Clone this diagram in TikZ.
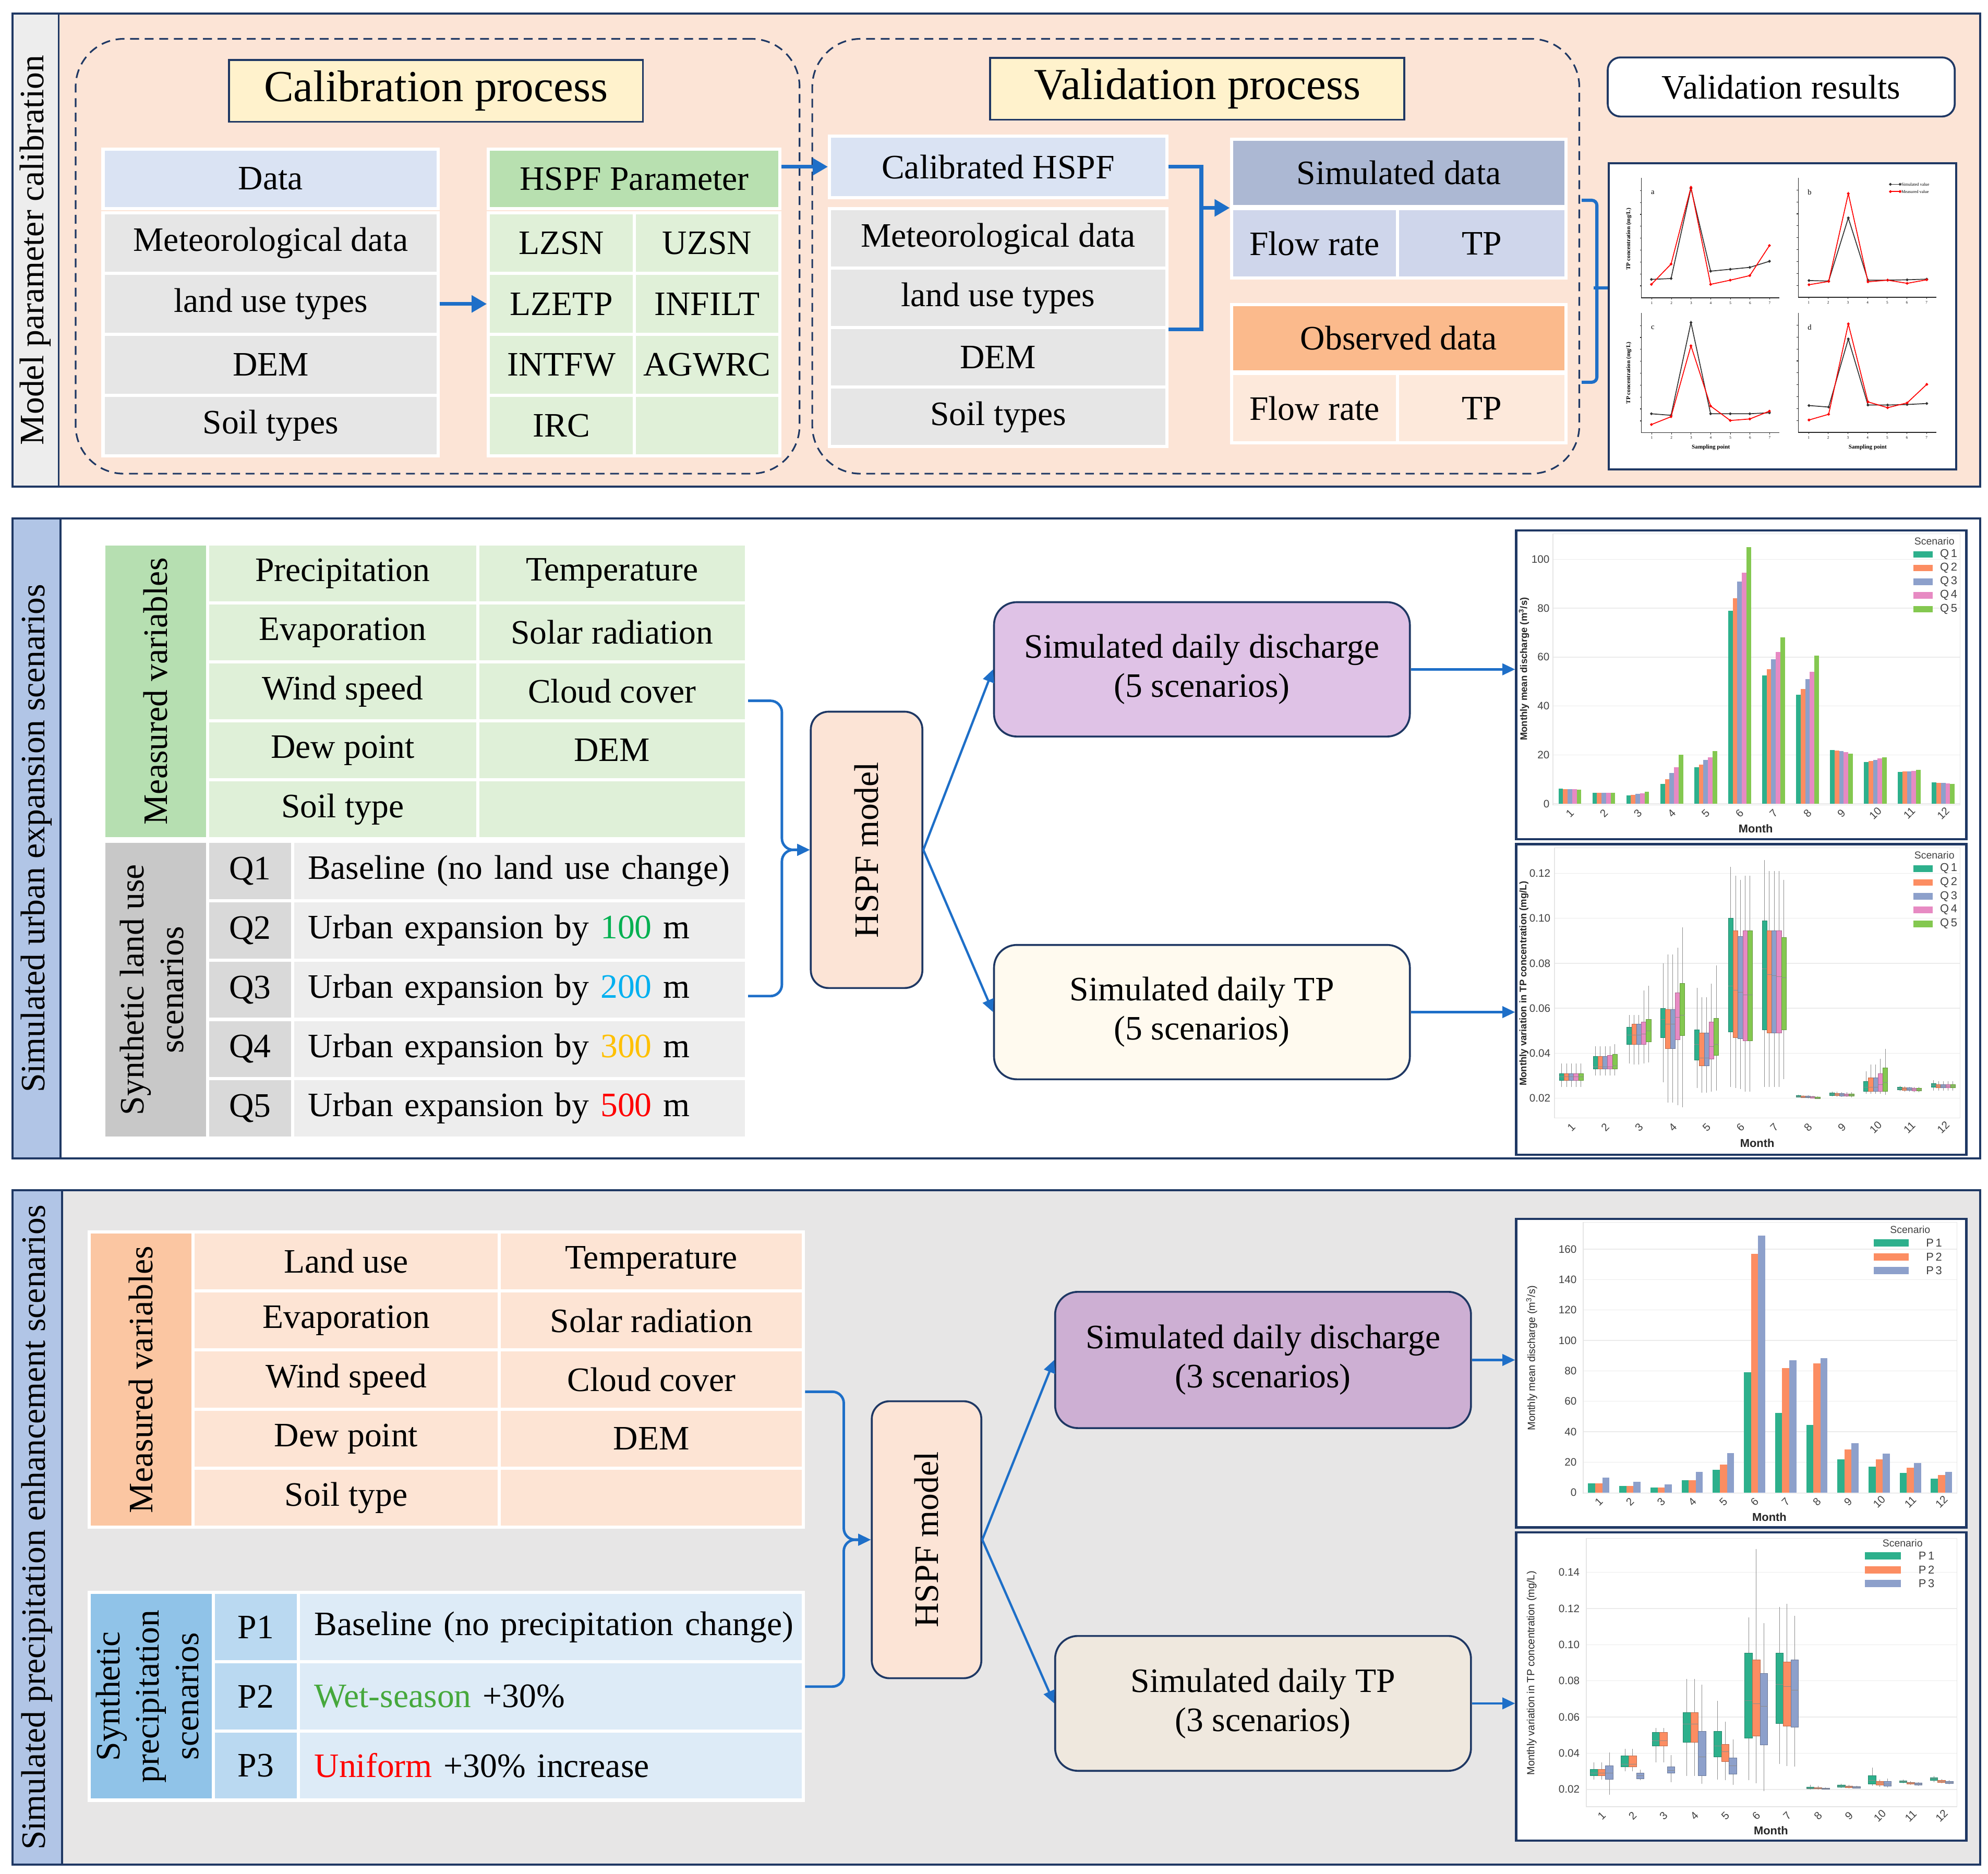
\documentclass[tikz,border=0pt]{standalone}
\usepackage{fontspec}
\usepackage{graphicx}
\setmainfont{Liberation Serif}
\newfontfamily\plotfont{Liberation Sans}
\usetikzlibrary{arrows.meta}

\definecolor{navy}{HTML}{1F3864}
\definecolor{linkblue}{HTML}{1E6FC8}
\definecolor{peach}{HTML}{FCE4D6}
\definecolor{stripgrey}{HTML}{EDEDED}
\definecolor{stripblue}{HTML}{B1C5E6}
\definecolor{bggrey}{HTML}{E7E6E6}
\definecolor{titleyellow}{HTML}{FFF2CC}
\definecolor{datablue}{HTML}{DAE3F3}
\definecolor{cellgrey}{HTML}{E6E6E6}
\definecolor{hspfgreen}{HTML}{B8E0B0}
\definecolor{cellgreen}{HTML}{E0F0D8}
\definecolor{simhead}{HTML}{ACB8D3}
\definecolor{simrow}{HTML}{CFD6EB}
\definecolor{obshead}{HTML}{FBBA8C}
\definecolor{obsrow}{HTML}{FDE9DB}
\definecolor{mvgreen}{HTML}{B6DFB1}
\definecolor{mvcell}{HTML}{DFF0D8}
\definecolor{sllab}{HTML}{C8C8C8}
\definecolor{qcell}{HTML}{D9D9D9}
\definecolor{qdesc}{HTML}{EDEDED}
\definecolor{mvpeach}{HTML}{FBC6A2}
\definecolor{peachcell}{HTML}{FDE4D4}
\definecolor{splab}{HTML}{90C3E8}
\definecolor{pcell}{HTML}{BAD9F1}
\definecolor{pdesc}{HTML}{DDEBF7}
\definecolor{discfive}{HTML}{DFC2E6}
\definecolor{tpfive}{HTML}{FFFAEF}
\definecolor{discthree}{HTML}{CDAFD3}
\definecolor{tpthree}{HTML}{EFE8DE}
\definecolor{dist100}{HTML}{00B050}
\definecolor{dist200}{HTML}{00B0F0}
\definecolor{dist300}{HTML}{FFC000}
\definecolor{dist500}{HTML}{FF0000}
\definecolor{wetgreen}{HTML}{46A83C}
\definecolor{sc1}{HTML}{2DB08C}
\definecolor{sc2}{HTML}{FC8D62}
\definecolor{sc3}{HTML}{8DA0CB}
\definecolor{sc4}{HTML}{E78AC3}
\definecolor{sc5}{HTML}{84C850}

\begin{document}
\begin{tikzpicture}[x=1pt,y=-1pt,
    every node/.style={font=\fontsize{27}{31}\selectfont},
    panel/.style={anchor=north west,draw=navy,line width=1.6pt,inner sep=0pt},
    cell/.style={anchor=north west,draw=white,line width=2.5pt,inner sep=0pt},
    lcell/.style={cell,align=left,inner xsep=12pt,text width=#1},
    dashbox/.style={anchor=north west,draw=navy,line width=1.3pt,dash pattern=on 7pt off 4.5pt,rounded corners=38,inner sep=0pt},
    titlebox/.style={draw=navy,line width=1.5pt,fill=titleyellow,inner sep=0pt,font=\fontsize{35}{40}\selectfont},
    resultbox/.style={draw=navy,line width=1.5pt,fill=white,rounded corners=10,inner sep=0pt},
    model/.style={draw=navy,line width=1.5pt,fill=peach,rounded corners=14,inner sep=0pt},
    result/.style={draw=navy,line width=1.5pt,rounded corners=18,align=center,inner sep=0pt},
    chart/.style={anchor=north west,draw=navy,line width=1.8pt,fill=white,inner sep=0pt},
    bigarrow/.style={draw=linkblue,line width=3pt,-{Triangle[length=12pt,width=13pt]}},
    bigline/.style={draw=linkblue,line width=3pt},
    link/.style={draw=linkblue,line width=2pt,rounded corners=9,-{Triangle[length=10pt,width=9pt]}},
    arrow/.style={draw=linkblue,line width=1.8pt,-{Triangle[length=10pt,width=9pt]}},
    brk/.style={draw=linkblue,line width=2.5pt,rounded corners=4},
    gridline/.style={draw=black!8,line width=0.6pt},
    plotframe/.style={draw=black!10,line width=0.6pt},
    ticklab/.style={font=\plotfont\fontsize{8.5}{10}\selectfont,text=black!75,inner sep=0pt},
    axlab/.style={font=\plotfont\bfseries\fontsize{7.6}{9}\selectfont,text=black!85,inner sep=0pt},
    axlabr/.style={font=\plotfont\fontsize{8.2}{10}\selectfont,text=black!85,inner sep=0pt},
    monthlab/.style={font=\plotfont\bfseries\fontsize{9}{11}\selectfont,text=black!85,inner sep=0pt},
    legtitle/.style={font=\plotfont\fontsize{8}{10}\selectfont,text=black!75,inner sep=0pt},
    leglab/.style={font=\plotfont\fontsize{9}{11}\selectfont,text=black!75,inner sep=0pt},
    whisker/.style={draw=black!45,line width=0.35pt},
    medline/.style={draw=black!45,line width=0.4pt},
    axisline/.style={draw=black!85,line width=0.5pt},
    simline/.style={draw=black!80,line width=0.7pt,mark=*,mark size=0.7pt},
    obsline/.style={draw=red,line width=0.7pt,mark=*,mark size=0.7pt},
    vtick/.style={font=\fontsize{3}{4}\selectfont,inner sep=0pt},
    vletter/.style={font=\fontsize{6}{7}\selectfont,inner sep=0pt},
    vaxis/.style={font=\bfseries\fontsize{4.6}{5}\selectfont,inner sep=0pt},
    vleg/.style={font=\fontsize{3.4}{4}\selectfont,inner sep=0pt},
  ]
\useasboundingbox (0,0) rectangle (1568,1478);

% ---------------- model parameter calibration ----------------
\node[panel,fill=peach,minimum width=1552,minimum height=373] (pan1) at (9,10) {};
\node[panel,fill=stripgrey,minimum width=36.5,minimum height=373] (pan1-lab) at (9,10) {\rotatebox{90}{Model parameter calibration}};
\node[dashbox,minimum width=571,minimum height=343] (calbox) at (59,30) {};
\node[dashbox,minimum width=605,minimum height=343] (valbox) at (640,30) {};
\node[titlebox,minimum width=326.5,minimum height=48.6] (caltitle) at (343.8,71.7) {Calibration process};
\node[titlebox,minimum width=326.6,minimum height=48.7] (valtitle) at (944.3,70) {Validation process};
\node[resultbox,minimum width=273.7,minimum height=46.6] (resbox) at (1404.9,68.6) {Validation results};

% data table
\node[cell,fill=datablue,minimum width=264.5,minimum height=47] (dat-head) at (80,116.3) {Data};
\foreach \nm/\txt [count=\i from 0] in {met/Meteorological data,land/land use types,dem/DEM,soil/Soil types}
  \node[cell,fill=cellgrey,minimum width=264.5,minimum height=48] (dat-\nm) at (80,166.5+48*\i) {\txt};

% parameter table
\node[cell,fill=hspfgreen,minimum width=230,minimum height=47] (par-head) at (384,116.3) {HSPF Parameter};
\foreach \ca/\cb [count=\i from 0] in {LZSN/UZSN,LZETP/INFILT,INTFW/AGWRC,IRC/{}} {
  \node[cell,fill=cellgreen,minimum width=115,minimum height=48] (par-\i-a) at (384,166.5+48*\i) {\ca};
  \node[cell,fill=cellgreen,minimum width=115,minimum height=48] (par-\i-b) at (499,166.5+48*\i) {\cb};
}

% validation inputs
\node[cell,fill=datablue,minimum width=266,minimum height=48.6] (calhspf) at (653,106) {Calibrated HSPF};
\foreach \nm/\txt [count=\i from 0] in {met/Meteorological data,land/land use types,dem/DEM,soil/Soil types}
  \node[cell,fill=cellgrey,minimum width=266,minimum height=46.9] (val-\nm) at (653,163.5+46.9*\i) {\txt};

% simulated / observed
\node[cell,fill=simhead,minimum width=264,minimum height=53] (simhead) at (970,108.5) {Simulated data};
\node[cell,fill=simrow,minimum width=131,minimum height=54.5] (sim-flow) at (970,163.5) {Flow rate};
\node[cell,fill=simrow,minimum width=133,minimum height=54.5] (sim-tp) at (1101,163.5) {TP};
\node[cell,fill=obshead,minimum width=264,minimum height=53] (obshead) at (970,239) {Observed data};
\node[cell,fill=obsrow,minimum width=131,minimum height=54.5] (obs-flow) at (970,293.5) {Flow rate};
\node[cell,fill=obsrow,minimum width=133,minimum height=54.5] (obs-tp) at (1101,293.5) {TP};

\draw[bigarrow] (dat-land.east) -- (par-1-a.west);
\draw[bigarrow] (calhspf.west -| par-head.east) -- (calhspf.west);
\coordinate (vjoin) at ([xshift=26]calhspf.east);
\draw[bigline] (calhspf.east) -- (vjoin) |- (val-land.south east);
\draw[bigarrow] (vjoin |- simhead.south west) -- (simhead.south west);

% validation plots
\node[chart,minimum width=274,minimum height=241.5] (valres) at (1268,128) {};
\coordinate (rb-top) at ([xshift=11,yshift=6]simhead.south east);
\coordinate (rb-bot) at ([xshift=11,yshift=-7]obshead.south east);
\coordinate (rb-mid) at (1257,227);
\draw[brk] (rb-top) -- ++(12,0) |- (rb-bot);
\draw[brk] (rb-mid) -- (rb-mid -| valres.west);
\foreach \xo/\yo/\lt [count=\s] in {1294.6/234.9/a,1418.3/234.5/b,1294.6/341.4/c,1418.3/341.1/d} {
  \draw[axisline] (\xo,\yo-94.4) -- (\xo,\yo) -- (\xo+109,\yo);
  \foreach \t in {1,...,9} \draw[axisline] (\xo,\yo-9.4*\t) -- ++(-1.2,0);
  \foreach \t in {1,...,7} {
    \draw[axisline] (\xo+8.2+15.5*\t-15.5,\yo) -- ++(0,1.2);
    \node[vtick] (vr\s-x\t) at (\xo+8.2+15.5*\t-15.5,\yo+4) {\t};
  }
  \node[vletter] (vr\s-lab) at (\xo+9,\yo-83) {\lt};
}
\draw[simline] plot coordinates {(1302.5,220.4) (1318,219.7) (1333.7,148.6) (1349.2,213.9) (1364.7,212.4) (1380.1,210.9) (1395.6,206.1)};
\draw[obsline] plot coordinates {(1302.5,224.3) (1318,208.3) (1333.7,147.8) (1349.2,224.3) (1364.7,221) (1380.1,217.4) (1395.6,193.7)};
\draw[simline] plot coordinates {(1426.8,221.3) (1442.3,221.7) (1457.8,171.9) (1473.3,221) (1488.8,221) (1504.2,220.7) (1519.7,220.2)};
\draw[obsline] plot coordinates {(1426.8,224.6) (1442.3,222) (1457.8,152.7) (1473.3,222.3) (1488.8,221) (1504.2,223.5) (1519.7,220.7)};
\draw[simline] plot coordinates {(1302.5,326.4) (1318,327.6) (1333.7,254.4) (1349.2,326.4) (1364.7,326.4) (1380.1,326.4) (1395.6,325.6)};
\draw[obsline] plot coordinates {(1302.5,334.9) (1318,328.7) (1333.7,272.8) (1349.2,320.3) (1364.7,331.7) (1380.1,330.5) (1395.6,324.3)};
\draw[simline] plot coordinates {(1426.8,319.9) (1442.3,321.1) (1457.8,267.4) (1473.3,319.5) (1488.8,319.5) (1504.2,319.1) (1519.7,318.3)};
\draw[obsline] plot coordinates {(1426.8,331.3) (1442.3,326.8) (1457.8,255.5) (1473.3,317) (1488.8,321.6) (1504.2,317.8) (1519.7,303.2)};
\draw[simline] plot coordinates {(1491,145.4) (1498.6,145.4)};
\node[vleg,anchor=west] (vr-leg1) at (1499.5,145.4) {Simulated value};
\draw[obsline] plot coordinates {(1491,151.1) (1498.6,151.1)};
\node[vleg,anchor=west] (vr-leg2) at (1499.5,151.1) {Measured value};
\node[vaxis,rotate=90] (vr-ya) at (1284.7,188.5) {TP concentration (mg/L)};
\node[vaxis,rotate=90] (vr-yc) at (1284.7,294.2) {TP concentration (mg/L)};
\node[vaxis] (vr-xc) at (1349.4,352.8) {Sampling point};
\node[vaxis] (vr-xd) at (1473.1,352.8) {Sampling point};

% ---------------- urban expansion scenarios ----------------
\node[panel,fill=white,minimum width=1552,minimum height=505] (pan2) at (9,408) {};
\node[panel,fill=stripblue,minimum width=38,minimum height=505] (pan2-lab) at (9,408) {\rotatebox{90}{Simulated urban expansion scenarios}};

\node[cell,fill=mvgreen,minimum width=82,minimum height=232.5] (mv1-lab) at (80.5,427.8) {\rotatebox{90}{Measured variables}};
\foreach \ca/\cb [count=\i from 0] in {Precipitation/Temperature,Evaporation/Solar radiation,Wind speed/Cloud cover,Dew point/DEM,Soil type/{}} {
  \node[cell,fill=mvcell,minimum width=213,minimum height=46.5] (mv1-\i-a) at (162.5,427.8+46.5*\i) {\ca};
  \node[cell,fill=mvcell,minimum width=212,minimum height=46.5] (mv1-\i-b) at (375.5,427.8+46.5*\i) {\cb};
}
\node[cell,fill=sllab,minimum width=82,minimum height=234] (sl-lab) at (80.5,662.5) {\rotatebox{90}{\begin{tabular}{@{}c@{}}Synthetic land use\\scenarios\end{tabular}}};
\foreach \q/\txt [count=\i from 0] in {Q1/Baseline (no land use change),Q2/Urban expansion by \textcolor{dist100}{100} m,Q3/Urban expansion by \textcolor{dist200}{200} m,Q4/Urban expansion by \textcolor{dist300}{300} m,Q5/Urban expansion by \textcolor{dist500}{500} m} {
  \node[cell,fill=qcell,minimum width=67,minimum height=46.8] (sl-\i-q) at (162.5,662.5+46.8*\i) {\q};
  \node[lcell=334,fill=qdesc,minimum height=46.8] (sl-\i-d) at (229.5,662.5+46.8*\i) {\mbox{\txt}};
}

\node[model,minimum width=88,minimum height=218] (hspf1) at (683.5,670.4) {\rotatebox{90}{HSPF model}};
\node[result,fill=discfive,minimum width=328,minimum height=106] (disc5) at (948,528) {Simulated daily discharge\\(5 scenarios)};
\node[result,fill=tpfive,minimum width=328,minimum height=106] (tp5) at (948,798.4) {Simulated daily TP\\(5 scenarios)};

\draw[link] ([yshift=-7.5]mv1-2-b.east) -- ++(26.7,0) |- (hspf1.west);
\draw[link] ([yshift=-5]sl-2-d.east) -- ++(26.7,0) |- (hspf1.west);
\draw[arrow] (hspf1.east) -- (disc5.west);
\draw[arrow] (hspf1.east) -- (tp5.west);

\node[chart,minimum width=355,minimum height=243.5] (qdis) at (1195,417.5) {};
\node[chart,minimum width=355,minimum height=245] (qtp) at (1195,665) {};
\draw[arrow] (disc5.east) -- (disc5.east -| qdis.west);
\draw[arrow] (tp5.east) -- (tp5.east -| qtp.west);

% monthly discharge, Q1-Q5
\begin{scope}[shift={(1224.8,634)},yscale=-1.928]
  \foreach \v in {0,20,...,100} {
    \draw[gridline] (0,\v) -- (321.2,\v);
    \node[ticklab,anchor=east] (qd-y\v) at (-2.5,\v) {\v};
  }
  \draw[plotframe] (0,-0.6) rectangle (321.2,110.4);
  \foreach \m/\va/\vb/\vc/\vd/\ve in {1/6.1/6/6/5.9/5.8,2/4.5/4.5/4.5/4.5/4.4,3/3.3/3.6/4/4.3/5,4/8/10/12.5/15/20,5/15/16/18/19/21.5,6/79/84/91/94.5/105,7/52.5/55/59/62/68,8/44.5/47/51/54/60.5,9/22/21.8/21.5/21.2/20.5,10/17/17.5/18/18.5/19,11/13/13.2/13.3/13.5/13.8,12/8.8/8.6/8.5/8.3/8} {
    \foreach \h [count=\k] in {\va,\vb,\vc,\vd,\ve}
      \fill[fill=sc\k] ({(\m-0.5)*26.77-9+(\k-1)*3.6},0) rectangle ++(3.6,\h);
    \node[ticklab,rotate=45] (qd-m\m) at ({(\m-0.5)*26.77},-3.9) {\m};
  }
\end{scope}
\node[axlab,rotate=90] (qd-ylab) at (1202,527.7) {Monthly mean discharge (m\textsuperscript{3}/s)};
\node[monthlab] (qd-xlab) at (1384.8,653.8) {Month};
\node[legtitle] (qd-leg) at (1525.7,426.9) {Scenario};
\foreach \y [count=\k] in {437.4,448,458.9,469.6,480.5} {
  \fill[fill=sc\k] (1509,\y-2.6) rectangle (1524.5,\y+2.6);
  \node[leglab,anchor=west] (qd-leg\k) at (1530,\y) {Q\,\k};
}

% monthly TP, Q1-Q5
\begin{scope}[shift={(1226,901.8)},yscale=-1.774]
  \foreach \v/\t in {20/0.02,40/0.04,60/0.06,80/0.08,100/0.10,120/0.12} {
    \draw[gridline] (0,\v) -- (320,\v);
    \node[ticklab,anchor=east] (qt-y\v) at (-3,\v) {\t};
  }
  \draw[plotframe] (0,11.2) rectangle (320,131.3);
  \foreach \m/\k/\lo/\hi/\md/\wl/\wh in {1/1/28/31/29.5/25/35.5,1/2/28/31/29.5/25/35.5,1/3/28/31/29.5/25/35.5,1/4/28/31/29.5/25/35.5,1/5/28/31/29.5/25/35.5,
      2/1/33/38.5/34/30/43,2/2/33/38.5/34/30/43,2/3/33/38.5/34/30/43,2/4/33/39/34/30/43,2/5/33/39.5/34.5/30/44,
      3/1/44/51.5/48/35.5/57,3/2/44/53/48/35/57,3/3/44/53/48/35/57,3/4/44/54/48.5/35.5/68,3/5/45/55/50/36/70,
      4/1/47/60/55/27/80,4/2/42/59.5/53/18/84,4/3/42/59.5/53/18/84,4/4/46/67/56/17/87,4/5/48/71/57/16/96,
      5/1/37/50.5/44/24.5/69,5/2/34.5/49/38/22.5/65,5/3/34.5/49/38/22.5/65,5/4/37.5/54/43/23/71,5/5/39/55.5/44/23.5/79,
      6/1/49.5/100/70/25/123,6/2/47/94.5/68/24.5/119,6/3/46.5/92/67/24/117,6/4/45.5/94.5/66/23/119,6/5/45.5/94.5/66/23/119,
      7/1/50.5/99/77.5/25/126,7/2/49/94.5/75/25/121,7/3/49/94.5/74.5/25/121,7/4/49/94.5/74/25/121,7/5/50.5/91.5/73.5/28.5/117,
      8/1/20.5/21.2/20.8/20.3/21.5,8/2/20.3/21/20.6/20.1/21.3,8/3/20.2/20.9/20.5/20/21.2,8/4/20.1/20.8/20.4/19.9/21.1,8/5/19.8/20.5/20.1/19.6/20.8,
      9/1/21.3/22.3/21.8/20.8/23,9/2/21.2/22.2/21.7/20.7/22.9,9/3/21.1/22.1/21.6/20.6/22.8,9/4/21/22/21.5/20.5/22.8,9/5/20.9/21.9/21.4/20.4/22.7,
      10/1/23/27.5/25/22/32,10/2/23/29/25/22/35,10/3/23/29/25/22/35,10/4/23/31/26/22/37.5,10/5/23/33.5/27/21.5/42,
      11/1/23.8/24.9/24.3/23.2/25.4,11/2/23.6/24.7/24.1/23/25.2,11/3/23.5/24.6/24/22.9/25.1,11/4/23.4/24.5/23.9/22.8/25,11/5/23.3/24.4/23.8/22.7/24.9,
      12/1/25/26.5/25.8/23.5/28,12/2/24.8/26.2/25.4/23.3/27.6,12/3/24.8/26.2/25.4/23.3/27.6,12/4/24.8/26.2/25.4/23.3/27.6,12/5/24.8/26.2/25.4/23.3/27.6} {
    \pgfmathsetmacro\xl{(\m-0.5)*26.67-9.5+(\k-1)*3.8}
    \draw[whisker] (\xl+1.9,\wl) -- (\xl+1.9,\wh);
    \filldraw[fill=sc\k,draw=sc\k!75!black,line width=0.3pt] (\xl,\lo) rectangle (\xl+3.8,\hi);
    \draw[medline] (\xl,\md) -- (\xl+3.8,\md);
  }
  \foreach \m in {1,...,12}
    \node[ticklab,rotate=45] (qt-m\m) at ({(\m-0.5)*26.67},7) {\m};
\end{scope}
\node[axlab,rotate=90] (qt-ylab) at (1202,775.9) {Monthly variation in TP concentration (mg/L)};
\node[monthlab] (qt-xlab) at (1386,901.6) {Month};
\node[legtitle] (qt-leg) at (1525.7,674.6) {Scenario};
\foreach \y [count=\k] in {685.2,696.2,707.1,717.7,728.8} {
  \fill[fill=sc\k] (1509,\y-2.6) rectangle (1524.5,\y+2.6);
  \node[leglab,anchor=west] (qt-leg\k) at (1530,\y) {Q\,\k};
}

% ---------------- precipitation enhancement scenarios ----------------
\node[panel,fill=bggrey,minimum width=1552,minimum height=532] (pan3) at (9,938) {};
\node[panel,fill=stripblue,minimum width=39,minimum height=532] (pan3-lab) at (9,938) {\rotatebox{90}{Simulated precipitation enhancement scenarios}};

\node[cell,fill=mvpeach,minimum width=82,minimum height=233] (mv2-lab) at (69,970.5) {\rotatebox{90}{Measured variables}};
\foreach \ca/\cb [count=\i from 0] in {Land use/Temperature,Evaporation/Solar radiation,Wind speed/Cloud cover,Dew point/DEM,Soil type/{}} {
  \node[cell,fill=peachcell,minimum width=241.5,minimum height=46.6] (mv2-\i-a) at (151,970.5+46.6*\i) {\ca};
  \node[cell,fill=peachcell,minimum width=240,minimum height=46.6] (mv2-\i-b) at (392.5,970.5+46.6*\i) {\cb};
}
\node[cell,fill=splab,minimum width=98,minimum height=163.8] (sp-lab) at (69,1255) {\rotatebox{90}{\begin{tabular}{@{}c@{}}Synthetic\\precipitation\\scenarios\end{tabular}}};
\foreach \p/\txt [count=\i from 0] in {P1/Baseline (no precipitation change),P2/\textcolor{wetgreen}{Wet-season} +30\%,P3/\textcolor{dist500}{Uniform} +30\% increase} {
  \node[cell,fill=pcell,minimum width=67,minimum height=54.6] (sp-\i-p) at (167,1255+54.6*\i) {\p};
  \node[lcell=373,inner xsep=12.75pt,fill=pdesc,minimum height=54.6] (sp-\i-d) at (234,1255+54.6*\i) {\mbox{\txt}};
}

\node[model,minimum width=86.4,minimum height=218.5] (hspf2) at (730.8,1214.6) {\rotatebox{90}{HSPF model}};
\node[result,fill=discthree,minimum width=328,minimum height=107.5] (disc3) at (996.2,1072.8) {Simulated daily discharge\\(3 scenarios)};
\node[result,fill=tpthree,minimum width=328,minimum height=106.4] (tp3) at (996.2,1343.7) {Simulated daily TP\\(3 scenarios)};

\draw[link] ([yshift=-9.6]mv2-2-b.east) -- ++(30.5,0) |- (hspf2.west);
\draw[link] ([yshift=7.7]sp-1-d.east) -- ++(30.5,0) |- (hspf2.west);
\draw[arrow] (hspf2.east) -- (disc3.west);
\draw[arrow] (hspf2.east) -- (tp3.west);

\node[chart,minimum width=355,minimum height=243.5] (pdis) at (1195,960.5) {};
\node[chart,minimum width=355,minimum height=243] (ptp) at (1195,1208) {};
\draw[arrow] (disc3.east) -- (disc3.east -| pdis.west);
\draw[arrow] (tp3.east) -- (tp3.east -| ptp.west);

% monthly discharge, P1-P3
\begin{scope}[shift={(1248.7,1177.4)},yscale=-1.2]
  \foreach \v in {0,20,...,160} {
    \draw[gridline] (0,\v) -- (294.9,\v);
    \node[ticklab,anchor=east] (pd-y\v) at (-5,\v) {\v};
  }
  \draw[plotframe] (0,-0.7) rectangle (294.9,177.6);
  \foreach \m/\va/\vb/\vc in {1/6/6/10,2/4.5/4.5/7,3/3.3/3.3/5.5,4/8/8/13.5,5/15/18.5/26,6/79/157/169,7/52.5/82/87,8/44.5/85/88.5,9/22/28.5/32.5,10/17/22/25.5,11/13/16.5/19.5,12/9/11.5/13.5} {
    \foreach \h [count=\k] in {\va,\vb,\vc}
      \fill[fill=sc\k] ({(\m-0.5)*24.575-8.4+(\k-1)*5.6},0) rectangle ++(5.6,\h);
    \node[ticklab,rotate=45] (pd-m\m) at ({(\m-0.5)*24.575},-6.1) {\m};
  }
\end{scope}
\node[axlabr,rotate=90] (pd-ylab) at (1208.1,1071.3) {Monthly mean discharge (m\textsuperscript{3}/s)};
\node[monthlab] (pd-xlab) at (1395.6,1196.9) {Month};
\node[legtitle] (pd-leg) at (1506.6,970) {Scenario};
\foreach \y [count=\k] in {980.5,991.6,1002.2} {
  \fill[fill=sc\k] (1478,\y-2.8) rectangle (1505.4,\y+2.8);
  \node[leglab,anchor=west] (pd-leg\k) at (1519,\y) {P\,\k};
}

% monthly TP, P1-P3
\begin{scope}[shift={(1251.1,1440.1)},yscale=-1.427]
  \foreach \v/\t in {20/0.02,40/0.04,60/0.06,80/0.08,100/0.10,120/0.12,140/0.14} {
    \draw[gridline] (0,\v) -- (292.5,\v);
    \node[ticklab,anchor=east] (pt-y\v) at (-5,\v) {\t};
  }
  \draw[plotframe] (0,10.5) rectangle (292.5,158.7);
  \foreach \m/\k/\lo/\hi/\md/\wl/\wh in {1/1/27.5/31/29/25.5/35,1/2/27.5/31/29/25.5/35,1/3/25.5/33/29/17/40.5,
      2/1/32.5/38.5/34/30/42.5,2/2/32.5/38.5/34/30/42.5,2/3/26/29/27.5/25/31,
      3/1/44/51.5/47/35/54,3/2/44/51.5/47/35/54,3/3/29/32.5/30.5/24/39,
      4/1/46/62.5/56/27.5/81,4/2/46/62.5/56/27.5/81,4/3/27.5/52/38/23/78,
      5/1/38/52/44/25.5/69,5/2/35.5/45/41/25/57.5,5/3/28.5/37.5/33/22.5/47.5,
      6/1/48.5/95.5/69/25/115,6/2/49.5/91.5/67.5/23.5/153,6/3/44.5/84/66/19/112,
      7/1/56.5/95.5/78/34/121,7/2/55/90.5/77/33/122.5,7/3/54.5/91.5/75/32.5/116,
      8/1/20.5/21.2/20.8/20/22.5,8/2/20.3/21/20.7/20/22,8/3/20.2/20.8/20.5/20/21,
      9/1/21.3/22.3/21.8/20.8/23,9/2/21/22/21.5/20.5/22.5,9/3/20.8/21.7/21.2/20.5/22,
      10/1/23/27.5/25/22/32,10/2/22.5/24.5/23.5/21.5/25.5,10/3/22/24.5/23/21/26,
      11/1/23.8/24.8/24.3/23.3/25.3,11/2/23/24/23.5/22.5/24.5,11/3/22.5/23.5/23/22/24,
      12/1/25/26.5/25.8/24/27.5,12/2/24/25/24.5/23.3/25.8,12/3/23.3/24.5/23.8/22.8/25} {
    \pgfmathsetmacro\xl{(\m-0.5)*24.375-9+(\k-1)*6}
    \draw[whisker] (\xl+3,\wl) -- (\xl+3,\wh);
    \filldraw[fill=sc\k,draw=sc\k!75!black,line width=0.3pt] (\xl,\lo) rectangle (\xl+6,\hi);
    \draw[medline] (\xl,\md) -- (\xl+6,\md);
  }
  \foreach \m in {1,...,12}
    \node[ticklab,rotate=45] (pt-m\m) at ({(\m-0.5)*24.375},5.4) {\m};
\end{scope}
\node[axlabr,rotate=90] (pt-ylab) at (1208.1,1319.8) {Monthly variation in TP concentration (mg/L)};
\node[monthlab] (pt-xlab) at (1396.8,1443.8) {Month};
\node[legtitle] (pt-leg) at (1500.6,1217.3) {Scenario};
\foreach \y [count=\k] in {1227.4,1238.5,1249.1} {
  \fill[fill=sc\k] (1470.8,\y-2.8) rectangle (1499.4,\y+2.8);
  \node[leglab,anchor=west] (pt-leg\k) at (1513,\y) {P\,\k};
}
\end{tikzpicture}
\end{document}
